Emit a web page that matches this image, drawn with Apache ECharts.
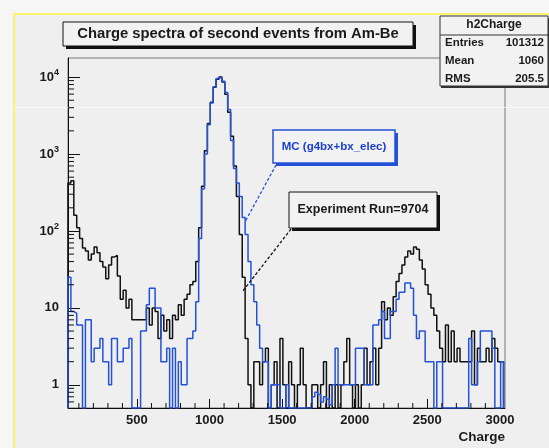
<!DOCTYPE html>
<html>
<head>
<meta charset="utf-8">
<script src="https://cdn.jsdelivr.net/npm/echarts@6/dist/echarts.min.js"></script>
<style>
  html, body { margin: 0; padding: 0; background: #f6f6f6; }
  #chart { width: 549px; height: 448px; }
</style>
</head>
<body>
<div id="chart"></div>
<script>
// Charge axis range and histogram binning
const CHARGE_MIN = 25;
const CHARGE_MAX = 3035;
const HIST_START = 25;
const BIN_WIDTH = 20;
const Y_MIN = 0.5;
const Y_MAX = 17700;

// Experiment Run=9704: counts per 20-wide charge bin
const experimentCounts = [
  420, 450, 160, 110, 80, 60, 55, 42, 50, 62,
  52, 40, 34, 24, 36, 46, 48, 26, 13, 17,
  10, 13, 7, 7, 7, 7, 7, 10, 6, 10,
  9, 4, 8, 5, 7, 4, 8, 7, 11, 8,
  13, 15, 20, 22, 40, 110, 380, 1100, 2500, 4700,
  7400, 9400, 10000, 8600, 6000, 3500, 1700, 700, 280, 90,
  25, 4, 1, 0, 2, 2, 1, 2, 3, 0,
  1, 2, 0, 4, 1, 0, 2, 1, 0, 1,
  3, 1, 0, 0, 1, 1, 0, 1, 2, 0,
  1, 0, 1, 0, 1, 2, 4, 1, 0, 1,
  0, 1, 3, 1, 2, 3, 1, 3, 12, 7,
  10, 8, 14, 22, 28, 36, 46, 55, 50, 62,
  58, 42, 32, 20, 15, 10, 8, 5, 3, 2,
  6, 2, 5, 2, 3, 2, 2, 2, 2, 5,
  1, 3, 2, 2, 3, 2, 4, 3, 2, 2
];

// MC (g4bx+bx_elec): scaled counts per 20-wide charge bin
const mcCounts = [
  25, 9, 8.5, 6, 6, 0, 7, 7, 2, 3,
  3, 4, 2, 2, 1, 4, 4, 2, 2, 3,
  3, 4, 0, 0, 0, 5, 5, 11, 18, 18,
  10, 10, 2, 2, 3, 0, 3, 0, 2, 1,
  1, 4, 4, 5, 12, 80, 350, 1000, 2400, 4600,
  7500, 9600, 10000, 8800, 6300, 3800, 1500, 650, 420, 280,
  150, 90, 40, 20, 12, 6, 3, 2, 2, 0,
  1, 1, 1, 0, 0, 1, 0, 0, 0, 0,
  0, 0, 0, 0, 0.7, 0.8, 0.75, 0.6, 0.7, 0.65,
  0.55, 1, 3, 1, 1, 1, 1, 1, 1, 3,
  3, 3, 1, 1, 1, 6, 6, 7, 9, 4,
  4, 9, 9, 13, 16, 16, 21, 21, 18, 8,
  4, 5, 5, 2, 2, 2, 0, 2, 2, 0,
  0, 0, 0, 0, 0, 0, 0, 0, 4, 1,
  1, 2, 5, 5, 5, 5, 3, 0, 0, 2
];

// Statistics box
const statsTitle = 'h2Charge';
const statsRows = [['Entries', '101312'], ['Mean', '1060'], ['RMS', '205.5']];

// Where each label's pointer lands on its curve
const mcPointerTarget = [1244, 131];
const expPointerTarget = [1223, 16];

const FONT = '"Liberation Sans", Arial, Helvetica, sans-serif';
const MC_BLUE = '#2452d6';
const MC_TEXT_BLUE = '#1b3fd0';

// Outline of a histogram as step points; empty bins sit on the axis floor
function histogramOutline(start, width, counts) {
  const floor = c => (c > 0 ? c : Y_MIN);
  const pts = [[start, Y_MIN]];
  counts.forEach((c, i) => pts.push([start + i * width, floor(c)]));
  const end = start + counts.length * width;
  pts.push([end, floor(counts[counts.length - 1])]);
  pts.push([end, Y_MIN]);
  return pts;
}

// Minor tick positions for both axes
const xMinorTicks = [];
for (let v = 100; v < CHARGE_MAX; v += 100) {
  if (v % 500 !== 0 && v > CHARGE_MIN) xMinorTicks.push([v, Y_MIN]);
}
const yMinorTicks = [];
for (let d = -1; d <= 4; d++) {
  for (let m = 2; m <= 9; m++) {
    const v = m * Math.pow(10, d);
    if (v > Y_MIN && v < Y_MAX) yMinorTicks.push([CHARGE_MIN, v]);
  }
}

function tickSeries(data, vertical, len) {
  return {
    type: 'custom',
    silent: true,
    z: 5,
    clip: false,
    data: data,
    renderItem: function (params, api) {
      const p = api.coord([api.value(0), api.value(1)]);
      const shape = vertical
        ? { x1: p[0], y1: p[1], x2: p[0], y2: p[1] - len }
        : { x1: p[0], y1: p[1], x2: p[0] + len, y2: p[1] };
      return { type: 'line', shape: shape, style: { stroke: '#111', lineWidth: 1 } };
    }
  };
}

const chart = echarts.init(document.getElementById('chart'), null, { renderer: 'canvas' });

const supLabel = v => {
  const k = Math.log10(v);
  const r = Math.round(k);
  if (Math.abs(k - r) > 1e-6) return '';
  if (r === 0) return '{b|1}';
  if (r === 1) return '{b|10}';
  return '{b|10}{s|' + r + '}';
};

chart.setOption({
  backgroundColor: '#f6f6f6',
  animation: false,
  grid: {
    left: 68, top: 58, width: 437, height: 350,
    show: true, borderColor: '#777', borderWidth: 1,
    backgroundColor: 'transparent',
    containLabel: false, outerBoundsMode: 'none'
  },
  xAxis: {
    type: 'value', min: CHARGE_MIN, max: CHARGE_MAX, splitNumber: 6,
    axisLine: { show: true, lineStyle: { color: '#111', width: 1 } },
    axisTick: { show: true, inside: true, length: 9, lineStyle: { color: '#111' } },
    splitLine: { show: false },
    axisLabel: {
      showMinLabel: false, showMaxLabel: false, margin: 6,
      color: '#1a1a1a', fontFamily: FONT, fontSize: 13, fontWeight: 'bold',
      formatter: v => (v % 500 === 0 ? String(v) : '')
    },
    name: 'Charge', nameLocation: 'end', nameGap: 0,
    nameTextStyle: {
      color: '#1a1a1a', fontFamily: FONT, fontSize: 13.5, fontWeight: 'bold',
      align: 'right', verticalAlign: 'top', padding: [22, 0, 0, 0]
    }
  },
  yAxis: {
    type: 'log', logBase: 10, min: Y_MIN, max: Y_MAX,
    axisLine: { show: true, lineStyle: { color: '#111', width: 1 } },
    axisTick: { show: true, inside: true, length: 12, lineStyle: { color: '#111' } },
    splitLine: { show: false },
    axisLabel: {
      showMinLabel: false, showMaxLabel: false, margin: 9,
      formatter: supLabel,
      rich: {
        b: { color: '#1a1a1a', fontFamily: FONT, fontSize: 13, fontWeight: 'bold', lineHeight: 18 },
        s: { color: '#1a1a1a', fontFamily: FONT, fontSize: 9, fontWeight: 'bold', lineHeight: 10, verticalAlign: 'top' }
      }
    }
  },
  series: [
    {
      name: 'Experiment Run=9704', type: 'line', step: 'end',
      data: histogramOutline(HIST_START, BIN_WIDTH, experimentCounts),
      showSymbol: false, symbol: 'none', z: 3,
      lineStyle: { color: '#111', width: 1.5 }
    },
    {
      name: 'MC (g4bx+bx_elec)', type: 'line', step: 'end',
      data: histogramOutline(HIST_START, BIN_WIDTH, mcCounts),
      showSymbol: false, symbol: 'none', z: 4,
      lineStyle: { color: MC_BLUE, width: 1.5 }
    },
    tickSeries(xMinorTicks, true, 5),
    tickSeries(yMinorTicks, false, 6)
  ]
});

// Pad decorations, title, statistics and labels
const mcTip = chart.convertToPixel({ gridIndex: 0 }, mcPointerTarget);
const expTip = chart.convertToPixel({ gridIndex: 0 }, expPointerTarget);

const boxText = (x, y, text, opts) => Object.assign({
  type: 'text', x: x, y: y, z: 20,
  style: Object.assign({
    text: text, fill: '#1a1a1a', font: 'bold 12px ' + FONT,
    align: 'left', verticalAlign: 'middle'
  }, opts || {})
});

chart.setOption({
  graphic: [
    // canvas background with yellow edge
    { type: 'rect', z: -10, shape: { x: 13, y: 13, width: 536, height: 435 }, style: { fill: '#efefef' } },
    { type: 'rect', z: 1, shape: { x: 13, y: 13, width: 536, height: 2 }, style: { fill: '#fbf46a' } },
    { type: 'rect', z: 1, shape: { x: 13, y: 13, width: 2, height: 435 }, style: { fill: '#fbf46a' } },
    { type: 'rect', z: 1, shape: { x: 15, y: 107, width: 534, height: 1 }, style: { fill: 'rgba(255,255,255,0.7)' } },

    // title box
    { type: 'rect', z: 10, shape: { x: 66, y: 25, width: 350, height: 24 }, style: { fill: '#111' } },
    { type: 'rect', z: 11, shape: { x: 63, y: 22, width: 350, height: 24 }, style: { fill: '#f2f2f2', stroke: '#111', lineWidth: 1 } },
    boxText(238, 34, 'Charge spectra of second events from Am-Be', { font: 'bold 14.8px ' + FONT, align: 'center' }),

    // statistics box
    { type: 'rect', z: 10, shape: { x: 441, y: 18, width: 108, height: 70 }, style: { fill: '#333' } },
    { type: 'rect', z: 11, shape: { x: 440, y: 16, width: 108, height: 70 }, style: { fill: '#f2f2f2', stroke: '#333', lineWidth: 1 } },
    { type: 'line', z: 12, shape: { x1: 440, y1: 35, x2: 548, y2: 35 }, style: { stroke: '#333', lineWidth: 1 } },
    boxText(494, 25, statsTitle, { align: 'center', font: 'bold 12px ' + FONT }),
    ...statsRows.flatMap((row, i) => [
      boxText(445, 43 + i * 18, row[0], { font: 'bold 11.5px ' + FONT }),
      boxText(544, 43 + i * 18, row[1], { align: 'right', font: 'bold 11.5px ' + FONT })
    ]),

    // MC label and pointer
    { type: 'line', z: 12, shape: { x1: 276, y1: 165, x2: mcTip[0], y2: mcTip[1] }, style: { stroke: MC_BLUE, lineWidth: 1.3, lineDash: [3, 2] } },
    { type: 'rect', z: 10, shape: { x: 276, y: 133, width: 122, height: 33 }, style: { fill: MC_BLUE } },
    { type: 'rect', z: 11, shape: { x: 273, y: 130, width: 122, height: 33 }, style: { fill: '#f2f2f2', stroke: MC_BLUE, lineWidth: 1.5 } },
    boxText(334, 147, 'MC (g4bx+bx_elec)', { align: 'center', fill: MC_TEXT_BLUE, font: 'bold 11.5px ' + FONT }),

    // Experiment label and pointer
    { type: 'line', z: 12, shape: { x1: 291, y1: 229, x2: expTip[0], y2: expTip[1] }, style: { stroke: '#111', lineWidth: 1.3, lineDash: [3, 2] } },
    { type: 'rect', z: 10, shape: { x: 292, y: 195, width: 148, height: 36 }, style: { fill: '#111' } },
    { type: 'rect', z: 11, shape: { x: 289, y: 192, width: 148, height: 36 }, style: { fill: '#f2f2f2', stroke: '#111', lineWidth: 1 } },
    boxText(363, 210, 'Experiment Run=9704', { align: 'center', font: 'bold 12.5px ' + FONT })
  ]
});
</script>
</body>
</html>
